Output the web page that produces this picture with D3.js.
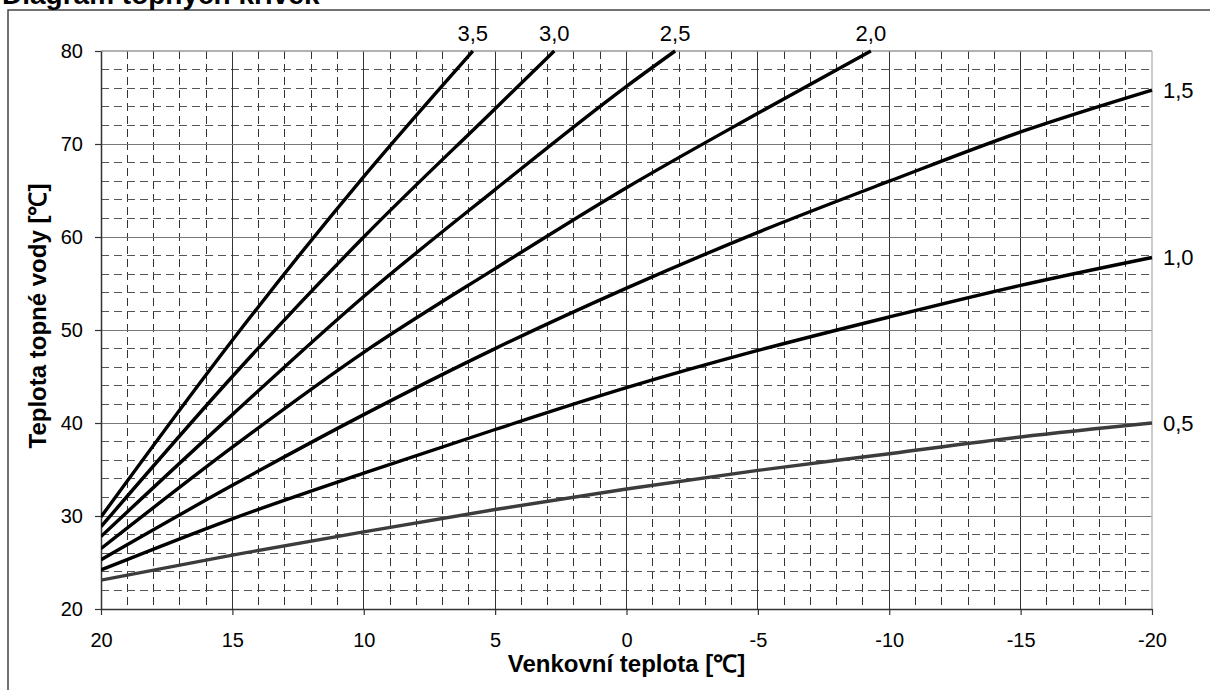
<!DOCTYPE html>
<html><head><meta charset="utf-8">
<script src="https://cdn.jsdelivr.net/npm/d3@7"></script>
<style>
body{margin:0;background:#fff}
svg{display:block}
text{font-family:Arial,"Liberation Sans",Helvetica,sans-serif;fill:#000}
</style>
</head><body>
<svg id="c" width="1210" height="690"></svg>
<script>
// ---- data ----
const outdoor = [20, 15, 10, 5, 0, -5, -10, -15, -20];
const curveLabels = ["0,5", "1,0", "1,5", "2,0", "2,5", "3,0", "3,5"];
const t05 = [23.1, 25.8, 28.3, 30.7, 32.9, 34.9, 36.7, 38.5, 40.0];
const t10 = [24.2, 29.7, 34.6, 39.3, 43.8, 47.8, 51.4, 54.8, 57.8];
const t15 = [25.3, 33.3, 40.9, 48.0, 54.5, 60.5, 66.0, 71.3, 75.8];
const t20 = [26.5, 37.4, 47.6, 56.6, 65.3, 73.3];
const t25 = [27.8, 40.9, 53.6, 65.1, 76.2];
const t30 = [28.85, 45.0, 60.0, 73.8];
const t35 = [29.9, 48.9, 66.5];
// outdoor temperature where a curve reaches 80 °C (null = reaches -20)
const topReach = [null, null, null, -9.3, -1.85, 2.75, 5.85];
const xTicks = [20, 15, 10, 5, 0, -5, -10, -15, -20];
const yTicks = [20, 30, 40, 50, 60, 70, 80];

const allT = [t05, t10, t15, t20, t25, t30, t35];

// ---- chart ----
const svg = d3.select("#c");
const L = 101, R = 1152, T = 51, B = 609;
const x = d3.scaleLinear().domain([20, -20]).range([L, R]);
const y = d3.scaleLinear().domain([20, 80]).range([B, T]);

// outer frame
svg.append("rect").attr("x", 8).attr("y", 10).attr("width", 1400).attr("height", 900)
  .attr("fill", "none").attr("stroke", "#444").attr("stroke-width", 1.5);

// title (cut off at the top, as in the reference)
svg.append("text").attr("x", 2).attr("y", 4).attr("font-size", 28).attr("font-weight", "bold")
  .text("Diagram topných křivek");

const g = svg.append("g");

// minor vertical dashed
const minorX = d3.range(-20, 21, 1).filter(v => v % 5 !== 0);
g.selectAll(".mvx").data(minorX).join("line")
  .attr("x1", d => x(d)).attr("x2", d => x(d))
  .attr("y1", T).attr("y2", B)
  .attr("stroke", "#333").attr("stroke-width", 1).attr("stroke-dasharray", "8,5")
  .attr("shape-rendering", "crispEdges");
// minor horizontal dashed
const minorY = d3.range(22, 80, 2).filter(v => v % 10 !== 0);
g.selectAll(".mhy").data(minorY).join("line")
  .attr("x1", L).attr("x2", R)
  .attr("y1", d => y(d)).attr("y2", d => y(d))
  .attr("stroke", "#555").attr("stroke-width", 1).attr("stroke-dasharray", "8,5")
  .attr("shape-rendering", "crispEdges");
// major vertical
g.selectAll(".Mvx").data(xTicks.filter(v => v !== 20 && v !== -20)).join("line")
  .attr("x1", d => x(d)).attr("x2", d => x(d))
  .attr("y1", T).attr("y2", B)
  .attr("stroke", "#333").attr("stroke-width", 1).attr("shape-rendering", "crispEdges");
// major horizontal
g.selectAll(".Mhy").data(yTicks.filter(v => v !== 20 && v !== 80)).join("line")
  .attr("x1", L).attr("x2", R)
  .attr("y1", d => y(d)).attr("y2", d => y(d))
  .attr("stroke", "#777").attr("stroke-width", 1).attr("shape-rendering", "crispEdges");
// top and right borders
g.append("line").attr("x1", L).attr("x2", R).attr("y1", T).attr("y2", T)
  .attr("stroke", "#999").attr("stroke-width", 1.5);
g.append("line").attr("x1", R).attr("x2", R).attr("y1", T).attr("y2", B)
  .attr("stroke", "#bbb").attr("stroke-width", 1.5);

// axes
const yAxis = d3.axisLeft(y).tickValues(yTicks).tickSize(6).tickSizeOuter(0).tickPadding(12)
  .tickFormat(d => String(d));
const ya = svg.append("g").attr("transform", `translate(${L},0)`).call(yAxis);
const xAxis = d3.axisBottom(x).tickValues(xTicks).tickSize(6).tickSizeOuter(0).tickPadding(18)
  .tickFormat(d => String(d));
const xa = svg.append("g").attr("transform", `translate(0,${B})`).call(xAxis);
[ya, xa].forEach(a => {
  a.selectAll("path").attr("stroke", "#333").attr("stroke-width", 1.5);
  a.selectAll("line").attr("stroke", "#333").attr("stroke-width", 1.2);
  a.selectAll("text").attr("font-size", 20).attr("fill", "#000")
    .attr("font-family", 'Arial,"Liberation Sans",sans-serif');
});

// curves
svg.append("defs").append("clipPath").attr("id", "clip")
  .append("rect").attr("x", L).attr("y", T - 2).attr("width", R - L + 2).attr("height", B - T + 2);
const line = d3.line().x(d => x(d[0])).y(d => y(d[1])).curve(d3.curveMonotoneX);
allT.forEach((arr, i) => {
  const pts = arr.map((t, k) => [outdoor[k], t]);
  if (topReach[i] !== null) pts.push([topReach[i], 80]);
  svg.append("path").datum(pts).attr("d", line)
    .attr("fill", "none")
    .attr("stroke", i === 0 ? "#3c3c3c" : "#000")
    .attr("stroke-width", 3.4)
    .attr("stroke-linejoin", "round")
    .attr("clip-path", "url(#clip)");
  const last = pts[pts.length - 1];
  if (topReach[i] !== null) {
    svg.append("text").attr("x", x(last[0])).attr("y", T - 10)
      .attr("text-anchor", "middle").attr("font-size", 22).text(curveLabels[i]);
  } else {
    svg.append("text").attr("x", R + 11).attr("y", y(last[1])).attr("dy", "0.36em")
      .attr("font-size", 22).text(curveLabels[i]);
  }
});

// axis titles
svg.append("text").attr("x", (L + R) / 2).attr("y", 672).attr("text-anchor", "middle")
  .attr("font-size", 24).attr("font-weight", "bold").text("Venkovní teplota [℃]");
svg.append("text").attr("transform", `translate(46,316) rotate(-90)`)
  .attr("text-anchor", "middle").attr("font-size", 24).attr("font-weight", "bold")
  .text("Teplota topné vody [℃]");
</script>
</body></html>
